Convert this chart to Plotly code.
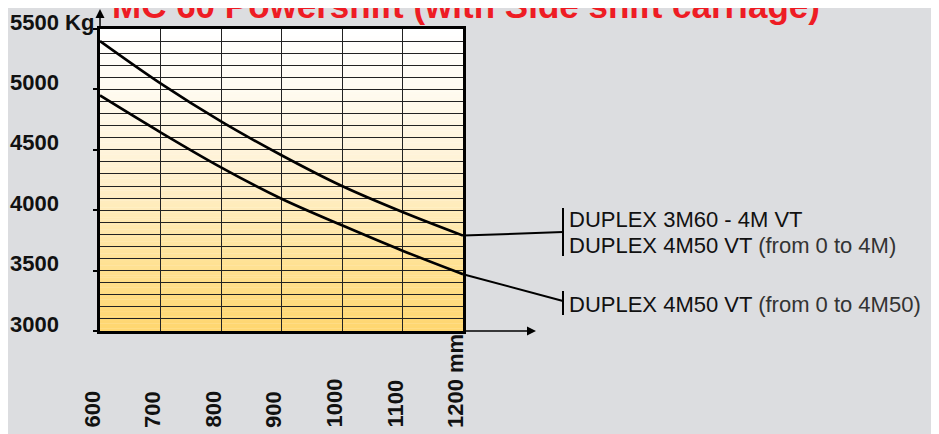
import plotly.graph_objects as go

# ---------------- data ----------------
reach_mm = [600, 700, 800, 900, 1000, 1100, 1200]
capacity_3m60_4m = [5400, 5050, 4735, 4455, 4200, 3985, 3790]
capacity_4m50 = [4950, 4645, 4355, 4095, 3875, 3665, 3470]
x_ticks = [600, 700, 800, 900, 1000, 1100, 1200]
x_tick_labels = ["600", "700", "800", "900", "1000", "1100", "1200 mm"]
y_ticks = [3000, 3500, 4000, 4500, 5000, 5500]
y_tick_labels = ["3000", "3500", "4000", "4500", "5000", "5500 Kg"]
series_labels_upper = ["DUPLEX 3M60 - 4M VT", "DUPLEX 4M50 VT <span style='color:#333'>(from 0 to 4M)</span>"]
series_label_lower = "DUPLEX 4M50 VT <span style='color:#333'>(from 0 to 4M50)</span>"
title_text = "MC 60 Powershift (with Side shift carriage)"

# ---------------- geometry helpers ----------------
W_FIG, H_FIG = 939, 434
OFF = 8                      # page body margin of the html page
L, R, T, B = 100, 463, 29, 331   # plot area in page pixels
PW, PH = R - L, B - T
Y0, Y1 = 3000, 5500


def px_x(px):
    return (px - L) / PW


def px_y(py):
    return (B - py) / PH


def val_y(v):
    return (v - Y0) / (Y1 - Y0)


fig = go.Figure()

# curves
for ys in (capacity_3m60_4m, capacity_4m50):
    fig.add_trace(go.Scatter(x=reach_mm, y=ys, mode="lines",
                             line=dict(color="black", width=2.6, shape="spline", smoothing=1.0),
                             hoverinfo="skip", showlegend=False))

shapes = []
# background gradient (white top -> yellow bottom)
stops = [(3000, (255, 214, 111)), (3500, (255, 224, 143)), (4000, (255, 235, 185)),
         (4500, (255, 244, 220)), (5000, (255, 251, 240)), (5500, (255, 255, 255))]


def col_at(v):
    for (a, ca), (b, cb) in zip(stops[:-1], stops[1:]):
        if a <= v <= b:
            t = (v - a) / (b - a)
            return "rgb(%d,%d,%d)" % tuple(round(ca[i] + (cb[i] - ca[i]) * t) for i in range(3))
    return "white"


step = 20
v = Y0
while v < Y1:
    shapes.append(dict(type="rect", xref="paper", yref="paper", x0=0, x1=1,
                       y0=val_y(v), y1=val_y(v + step) + 0.001,
                       fillcolor=col_at(v + step / 2), line=dict(width=0), layer="below"))
    v += step

# leader lines and brackets
bar_x = px_x(563)
shapes.append(dict(type="line", xref="paper", yref="paper", x0=1, y0=val_y(capacity_3m60_4m[-1]),
                   x1=bar_x, y1=px_y(232), line=dict(color="black", width=2)))
shapes.append(dict(type="line", xref="paper", yref="paper", x0=bar_x, y0=px_y(208),
                   x1=bar_x, y1=px_y(256), line=dict(color="black", width=2)))
shapes.append(dict(type="line", xref="paper", yref="paper", x0=1, y0=val_y(capacity_4m50[-1]),
                   x1=bar_x, y1=px_y(301), line=dict(color="black", width=2)))
shapes.append(dict(type="line", xref="paper", yref="paper", x0=bar_x, y0=px_y(291),
                   x1=bar_x, y1=px_y(315), line=dict(color="black", width=2)))

annotations = []
bold = dict(family="Liberation Sans, Arial, sans-serif", size=22, color="#111")
# y tick labels (left aligned)
for val, lab in zip(y_ticks, y_tick_labels):
    annotations.append(dict(text="<b>%s</b>" % lab, xref="paper", yref="y", x=px_x(8), y=val,
                            xanchor="left", yanchor="middle", yshift=7, showarrow=False, font=bold))
# x tick labels (rotated)
for val, lab in zip(x_ticks, x_tick_labels):
    annotations.append(dict(text="<b>%s</b>" % lab, xref="x", yref="paper", x=val, y=px_y(430),
                            xanchor="center", yanchor="bottom", xshift=-8, textangle=-90,
                            showarrow=False, font=bold))
# series labels
lab_font = dict(family="Liberation Sans, Arial, sans-serif", size=22, color="#111")
annotations.append(dict(text=series_labels_upper[0], xref="paper", yref="paper", x=px_x(567), y=px_y(219.5),
                        xanchor="left", yanchor="middle", showarrow=False, font=lab_font))
annotations.append(dict(text=series_labels_upper[1], xref="paper", yref="paper", x=px_x(567), y=px_y(245.5),
                        xanchor="left", yanchor="middle", showarrow=False, font=lab_font))
annotations.append(dict(text=series_label_lower, xref="paper", yref="paper", x=px_x(567), y=px_y(304),
                        xanchor="left", yanchor="middle", showarrow=False, font=lab_font))
# title
annotations.append(dict(text="<b>%s</b>" % title_text, xref="paper", yref="paper", x=px_x(110), y=1,
                        xanchor="left", yanchor="bottom", yshift=2, showarrow=False,
                        font=dict(family="Liberation Sans, Arial, sans-serif", size=35, color="#ee1c24")))
# axis arrows
annotations.append(dict(text="", xref="paper", yref="paper", x=0, y=px_y(4), ax=0, ay=26,
                        showarrow=True, arrowhead=2, arrowsize=1.2, arrowwidth=1.5, arrowcolor="black"))
annotations.append(dict(text="", xref="paper", yref="paper", x=px_x(536), y=0, ax=-73, ay=0,
                        showarrow=True, arrowhead=2, arrowsize=1.2, arrowwidth=1.5, arrowcolor="black"))

fig.update_layout(
    width=W_FIG, height=H_FIG,
    margin=dict(l=L - OFF, r=W_FIG - (R - OFF), t=T - OFF, b=H_FIG - (B - OFF), pad=0),
    paper_bgcolor="#dcdde0", plot_bgcolor="white",
    shapes=shapes, annotations=annotations, showlegend=False,
    xaxis=dict(range=[600, 1200], tickvals=x_ticks, showticklabels=False, ticks="",
               showgrid=True, gridcolor="#222222", gridwidth=1, zeroline=False,
               showline=True, linecolor="black", linewidth=2.5, mirror=True, fixedrange=True),
    yaxis=dict(range=[Y0, Y1], dtick=500, tick0=3000, showticklabels=False, ticks="outside",
               ticklen=4, tickcolor="black", tickwidth=1.5,
               showgrid=True, gridcolor="#222222", gridwidth=1, zeroline=False,
               minor=dict(dtick=100, showgrid=True, gridcolor="#222222", gridwidth=1, ticks=""),
               showline=True, linecolor="black", linewidth=2.5, mirror=True, fixedrange=True),
)

fig.write_html("out.html")
